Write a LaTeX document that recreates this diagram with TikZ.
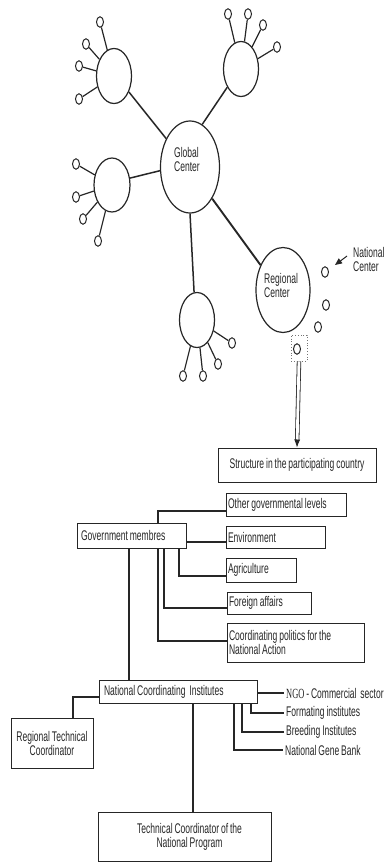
\documentclass[tikz,border=0pt]{standalone}
\usepackage{fontspec}
\setmainfont{Liberation Sans}
\newfontfamily\lab{Liberation Sans}[FakeStretch=0.61,WordSpace=0.8]
\newfontfamily\labser{Liberation Serif}[FakeStretch=0.6]
\usetikzlibrary{shapes.geometric,arrows.meta}
\begin{document}
\begin{tikzpicture}[x=1pt,y=-1pt,
  every node/.style={font=\lab\fontsize{14}{14}\selectfont, text=black!85},
  bigell/.style={ellipse, draw=black!85, line width=1.2pt, inner sep=0pt},
  sm/.style={ellipse, draw=black!85, line width=1pt, inner sep=0pt, minimum width=7pt, minimum height=10.5pt},
  spoke/.style={draw=black!85, line width=1.2pt},
  hub/.style={draw=black!85, line width=1.5pt},
  box/.style={draw=black!85, line width=1pt, rectangle, inner xsep=2pt, inner ysep=0pt, align=flush left},
  cbox/.style={draw=black!85, line width=1pt, rectangle, inner sep=0pt, align=center},
  conn/.style={draw=black!85, line width=1.1pt},
  plain/.style={inner xsep=2pt, inner ysep=0pt, anchor=west},
  txt/.style={inner sep=0pt, align=left}
]
\useasboundingbox (0,0) rectangle (390,862);

% ---------- network ----------
\node[bigell, minimum width=59pt, minimum height=92pt] (g) at (190,167) {};
\node[txt] (gl) at (187,159) {Global\\Center};

\node[bigell, minimum width=35pt, minimum height=55pt] (c1) at (114,76) {};
\node[sm] (c1a) at (100,22) {};
\node[sm] (c1b) at (86,44) {};
\node[sm] (c1c) at (79,66) {};
\node[sm] (c1d) at (79,99) {};
\foreach \s in {c1a,c1b,c1c,c1d} \draw[spoke] (\s) -- (c1);

\node[bigell, minimum width=35pt, minimum height=55pt] (c2) at (241,69) {};
\node[sm] (c2a) at (228,14) {};
\node[sm] (c2b) at (248,14) {};
\node[sm] (c2c) at (263,25) {};
\node[sm] (c2d) at (277,47) {};
\foreach \s in {c2a,c2b,c2c,c2d} \draw[spoke] (\s) -- (c2);

\node[bigell, minimum width=36pt, minimum height=54pt] (c3) at (112,185) {};
\node[sm] (c3a) at (76,164) {};
\node[sm] (c3b) at (76,197) {};
\node[sm] (c3c) at (83,219) {};
\node[sm] (c3d) at (98,241) {};
\foreach \s in {c3a,c3b,c3c,c3d} \draw[spoke] (\s) -- (c3);

\node[bigell, minimum width=35pt, minimum height=55pt] (c4) at (197,320) {};
\node[sm] (c4a) at (232,343) {};
\node[sm] (c4b) at (218,364) {};
\node[sm] (c4c) at (203,376) {};
\node[sm] (c4d) at (183,376) {};
\foreach \s in {c4a,c4b,c4c,c4d} \draw[spoke] (\s) -- (c4);

\node[bigell, minimum width=54pt, minimum height=85pt] (r) at (283,290) {};
\node[txt, anchor=west] (rl) at (264,285.5) {\fontsize{14}{13.5}\selectfont Regional\\Center};

\draw[hub] (g.130) -- (c1.313);
\draw[hub] (g.74) -- (c2.233);
\draw[hub] (g.187) -- (c3.21);
\draw[hub] (g.270) -- (c4.96);
\draw[hub, line width=1.9pt] (g.305) -- (r.132);

\node[sm] (n1) at (325,272) {};
\node[sm] (n2) at (326,305) {};
\node[sm] (n3) at (318,327) {};
\node[draw=black!55, dotted, line width=0.8pt, minimum width=16pt, minimum height=26pt, inner sep=0pt] (nb) at (299,348) {};
\node[sm] (n4) at (297,349) {};

\node[txt, anchor=west] (ncl) at (353,259) {National\\Center};
\coordinate (nat) at (335,265);
\draw[black!85, line width=1pt, -{Triangle[length=7pt,width=6pt]}] ([shift={(-6,-3)}]ncl.west) -- (nat);

% ---------- country structure ----------
\node[cbox, minimum width=158pt, minimum height=34pt] (st) at (297,465) {Structure in the participating country};

\draw[black!85, double=white, double distance=2.8pt, line width=0.8pt, -{Latex[length=8pt,width=6pt]}] (nb.south) -- (st.north);

\node[box, text width=116pt, minimum height=23pt] (oth) at (286,504.5) {Other governmental levels};
\node[box, text width=95pt, minimum height=22pt] (env) at (275.5,537) {Environment};
\node[box, text width=66pt, minimum height=24pt] (agr) at (261,570) {Agriculture};
\node[box, text width=80pt, minimum height=22pt] (fa) at (269,603) {Foreign affairs};
\node[box, text width=133pt, minimum height=39pt] (cp) at (295.5,642.5) {Coordinating politics for the\\National Action};

\node[box, inner xsep=4pt, text width=101pt, minimum height=25pt] (gov) at (131.5,535.5) {Government membres};
\node[box, inner xsep=5pt, text width=148pt, minimum height=23pt] (nci) at (178,691.5) {National Coordinating\ \ Institutes};

\node[cbox, minimum width=82pt, minimum height=50pt] (rtc) at (52,743) {Regional Technical\\Coordinator};
\node[cbox, minimum width=173pt, minimum height=49pt] (tc) at (184.5,836.5) {\hspace*{10pt}Technical Coordinator of the\\\hspace*{10pt}National Program};

\coordinate (v1) at (158,511);
\draw[conn] (gov.north -| v1) |- (oth.west |- v1);
\coordinate (e1) at (0,542);
\draw[conn] (gov.east |- e1) -- (env.west |- e1);
\coordinate (a1) at (179,576);
\draw[conn] (gov.south -| a1) |- (agr.west |- a1);
\coordinate (f1) at (164,608);
\draw[conn] (gov.south -| f1) |- (fa.west |- f1);
\coordinate (p1) at (158,641);
\draw[conn] (gov.south -| p1) |- (cp.west |- p1);
\coordinate (nx) at (129,0);
\draw[conn] (gov.south -| nx) -- (nci.north -| nx);

\node[plain] (ngo) at (284,693) {{\labser NGO} - Commercial\ \ sector};
\node[plain] (fi) at (284,713) {Formating institutes};
\node[plain] (bi) at (284,732) {Breeding Institutes};
\node[plain] (gb) at (283,750) {National Gene Bank};
\draw[conn] (nci.east |- ngo) -- (ngo.west);
\coordinate (fx) at (251,0);
\draw[conn] (nci.south -| fx) |- (fi.west);
\coordinate (bx) at (242,0);
\draw[conn] (nci.south -| bx) |- (bi.west);
\coordinate (gx) at (234,0);
\draw[conn] (nci.south -| gx) |- (gb.west);

\coordinate (rx) at (73,697);
\draw[conn, line width=2pt] (nci.west |- rx) -| (rtc.north -| rx);
\coordinate (tx) at (193,0);
\draw[conn, line width=1.6pt] (nci.south -| tx) -- (tc.north -| tx);
\end{tikzpicture}
\end{document}
